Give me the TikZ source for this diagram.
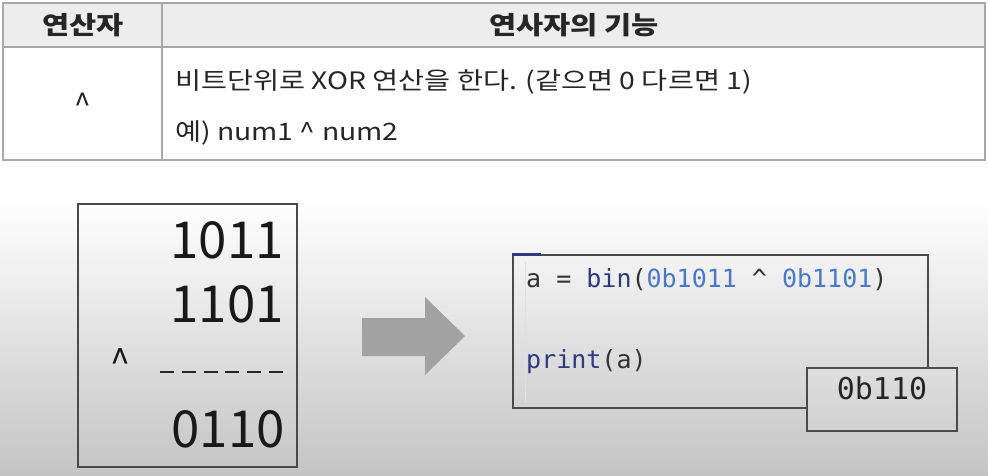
\documentclass[tikz,border=0pt]{standalone}
\usepackage{fontspec}
\setmainfont{Noto Sans CJK KR}
\newfontfamily\codefont{DejaVu Sans Mono}
\definecolor{tableline}{HTML}{A8A8A8}
\definecolor{headfill}{HTML}{EDEDED}
\definecolor{boxline}{HTML}{4A4A4A}
\definecolor{arrowgray}{HTML}{A2A2A2}
\definecolor{kw}{HTML}{2E3A80}
\definecolor{num}{HTML}{4A78C8}
\definecolor{plain}{HTML}{333333}
\definecolor{bgbottom}{HTML}{C4C4C4}
\tikzset{
  celltext/.style={inner sep=0pt, xscale=1.18, font=\fontsize{24}{28}\selectfont, text=black!85},
  headtext/.style={inner sep=0pt, xscale=1.18, font=\fontsize{25}{29}\selectfont\bfseries, text=black!85},
  bignum/.style={inner sep=0pt, anchor=east, font=\fontsize{51}{60}\selectfont, text=black!90},
  codetext/.style={inner sep=0pt, anchor=west, font=\fontsize{25}{30}\selectfont\codefont, text=plain},
  framebox/.style={draw=boxline, line width=1.5pt, inner sep=0pt}
}
\begin{document}
\begin{tikzpicture}[x=1pt,y=-1pt]
\useasboundingbox (0,0) rectangle (988,475);
% background
\fill[white] (0,0) rectangle (988,200);
\shade[top color=white, bottom color=bgbottom] (0,200) rectangle (988,475);
% table
\fill[headfill] (3,3) rectangle (985,47);
\draw[tableline, line width=1.5pt] (3,3) rectangle (985,160);
\draw[tableline, line width=1.5pt] (3,47) -- (985,47);
\draw[tableline, line width=1.5pt] (162,3) -- (162,160);
\node[headtext] (h1) at (83,25) {연산자};
\node[headtext] (h2) at (574,25) {연사자의 기능};
\node[inner sep=0pt, font=\fontsize{30}{34}\selectfont, text=black!85] (op) at (83,104) {\^{}};
\node[celltext, anchor=west] (d1) at (175,82) {비트단위로 XOR 연산을 한다. (같으면 0 다르면 1)};
\node[celltext, anchor=west] (d2) at (175,133) {예) num1 \^{} num2};
% left box
\node[framebox, minimum width=219pt, minimum height=263pt] (lbox) at (187.5,335.5) {};
\node[bignum] (n1) at (284,240) {1011};
\node[bignum] (n2) at (284,304) {1101};
\node[inner sep=0pt, font=\fontsize{36}{40}\selectfont, text=black!90] (xo) at (120,362) {\^{}};
\coordinate (dl) at (160,372);
\coordinate (dr) at (283,372);
\draw[black!85, line width=2pt, dash pattern=on 14pt off 7.8pt] (dl) -- (dr);
\node[bignum] (n3) at (285,429) {0110};
% arrow
\fill[arrowgray] (362,318) -- (425,318) -- (425,297) -- (465,336) -- (425,375) -- (425,356) -- (362,356) -- cycle;
% code box
\node[framebox, minimum width=415pt, minimum height=153pt] (code) at (720.5,331.5) {};
\draw[kw, line width=2.5pt] (code.north west) -- ++(29,0);
\draw[black!12, line width=1pt] (525,262) -- (525,402);
\node[codetext] (c1) at (526,280) {a = \textcolor{kw}{bin}(\textcolor{num}{0b1011} \^{} \textcolor{num}{0b1101})};
\node[codetext] (c2) at (526,362) {\textcolor{kw}{print}(a)};
% output box
\shade[top color=black!13, bottom color=black!18] (807,368) rectangle (957,431);
\node[framebox, minimum width=150pt, minimum height=63pt] (out) at (882,399.5) {};
\node[inner sep=0pt, font=\fontsize{30}{36}\selectfont\codefont, text=black!85] (res) at (882,388) {0b110};
\end{tikzpicture}
\end{document}
